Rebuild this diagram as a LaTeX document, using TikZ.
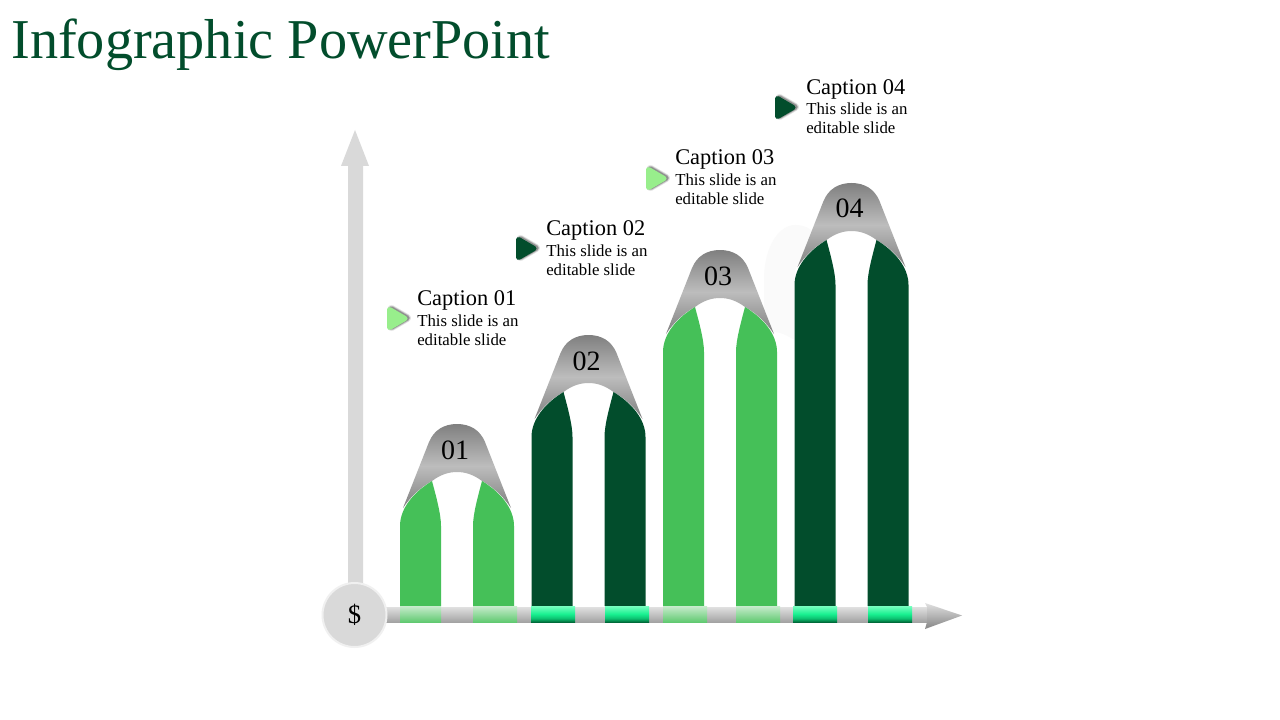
\documentclass[tikz,border=0pt]{standalone}
\usepackage{fontspec}
\setmainfont{Liberation Serif}
\definecolor{dkgreen}{HTML}{024D2C}
\definecolor{mdgreen}{HTML}{45C058}
\definecolor{ltgreen}{HTML}{98EE8C}
\definecolor{axisgray}{HTML}{D9D9D9}
\definecolor{segdk}{HTML}{006A3A}
\definecolor{segmid}{HTML}{0CC070}
\definecolor{segbr}{HTML}{18F090}
\definecolor{segtop}{HTML}{78FFC0}
\pgfdeclareverticalshading{neonseg}{100bp}{color(0bp)=(segdk); color(25bp)=(segdk); color(36bp)=(segmid); color(50bp)=(segbr); color(75bp)=(segtop); color(100bp)=(segtop)}
\tikzset{
  px/.style={x=0.75pt,y=-0.75pt},
  titletext/.style={anchor=base west,inner sep=0pt,text=dkgreen,font=\fontsize{42.2}{48}\selectfont},
  captext/.style={anchor=base west,inner sep=0pt,text=black,font=\fontsize{16.8}{20}\selectfont},
  bodytext/.style={anchor=north west,inner sep=0pt,align=left,text=black,font=\fontsize{12.6}{14.25}\selectfont},
  numtext/.style={anchor=base,inner sep=0pt,text=black,font=\fontsize{21}{24}\selectfont},
  capshape/.style={top color=black!50,bottom color=black!50,middle color=black!26,draw=none},
  axisbar/.style={top color=black!12,bottom color=black!36,draw=none},
  axishead/.style={top color=black!12,bottom color=black!48,draw=none},
  softseg/.style={top color=mdgreen!30!white,bottom color=mdgreen!85!white,draw=none},
  neon/.style={shading=neonseg,draw=none},
}
\newcommand{\pointer}[3]{% x, y top, colour
  \begin{scope}[shift={(#1,#2)}]
    \foreach \w/\o in {8/.10,6.5/.16,5/.25}{
      \draw[line join=round,line width=\w*.75pt,black,opacity=\o] (4.5,3) -- (20,12) -- (4.5,21) -- cycle;
    }
    \fill[#3,draw=#3,line width=3.75pt,line join=round] (2.5,3.5) -- (18,12.5) -- (2.5,21.5) -- cycle;
  \end{scope}}
\newcommand{\barcolumn}[4]{% cx, top, colour, label
  \begin{scope}[shift={(#1,#2)}]
    \path[capshape] (-54,84) -- (-28,18) .. controls (-23,6) and (-13,0) .. (0,0)
      .. controls (13,0) and (23,6) .. (28,18) -- (54,84)
      .. controls (46,72) and (36,63) .. (25,57) .. controls (17,51) and (9,48) .. (0,48)
      .. controls (-9,48) and (-17,51) .. (-25,57) .. controls (-36,63) and (-46,72) .. (-54,84) -- cycle;
    \fill[#3] (-57,{606-#2}) -- (-57,102) .. controls (-57,84) and (-43,68) .. (-25,57)
      .. controls (-21,72) and (-16,90) .. (-16,102) -- (-16,{606-#2}) -- cycle;
    \fill[#3] (57,{606-#2}) -- (57,102) .. controls (57,84) and (43,68) .. (25,57)
      .. controls (21,72) and (16,90) .. (16,102) -- (16,{606-#2}) -- cycle;
    \node[numtext] (num#4) at (-2,35) {#4};
  \end{scope}}
\begin{document}
\begin{tikzpicture}[px]
\useasboundingbox (0,0) rectangle (1280,720);
\fill[white] (0,0) rectangle (1280,720);
% title
\node[titletext] (title) at (11,58.5) {Infographic PowerPoint};
% faint ghost
\fill[black!2] (764,340) -- (764,280) .. controls (764,245) and (780,225) .. (795,225)
  .. controls (803,225) and (810,228) .. (813,232) -- (795,270) -- (795,340) .. controls (785,335) and (772,325) .. (764,340) -- cycle;
% vertical axis
\fill[axisgray] (348,585) -- (348,166) -- (341,166) -- (355,130) -- (369,166) -- (363,166) -- (363,585) -- cycle;
% columns
\barcolumn{457}{424}{mdgreen}{01}
\barcolumn{588.5}{335}{dkgreen}{02}
\barcolumn{720}{250}{mdgreen}{03}
\barcolumn{851.5}{183}{dkgreen}{04}
% horizontal axis
\path[axisbar] (380,607) rectangle (930,622);
\path[axishead] (925,603) -- (962,615.5) -- (925,629) -- (927,622) -- (927,607) -- cycle;
\foreach \a/\b in {400/441,473/517,663/707,736/780}{\path[softseg] (\a,606) rectangle (\b,622);}
\foreach \a/\b in {531/575,605/649,793/837,868/912}{\path[neon] (\a,606) rectangle (\b,622);}
% dollar
\node[circle,minimum size=48pt,inner sep=0pt,fill=axisgray,draw=black!6,line width=1.5pt,font=\fontsize{20}{24}\selectfont] (dollar) at (354.5,615) {\$};
% captions
\pointer{387}{306}{ltgreen}
\node[captext] (cap1) at (417,305) {Caption 01};
\node[bodytext] (body1) at (417,314.5) {This slide is an\\editable slide};
\pointer{516}{236}{dkgreen}
\node[captext] (cap2) at (546,235) {Caption 02};
\node[bodytext] (body2) at (546,244.5) {This slide is an\\editable slide};
\pointer{646}{166}{ltgreen}
\node[captext] (cap3) at (675,165) {Caption 03};
\node[bodytext] (body3) at (675,173.5) {This slide is an\\editable slide};
\pointer{775}{95}{dkgreen}
\node[captext] (cap4) at (806,95) {Caption 04};
\node[bodytext] (body4) at (806,103) {This slide is an\\editable slide};
\end{tikzpicture}
\end{document}
